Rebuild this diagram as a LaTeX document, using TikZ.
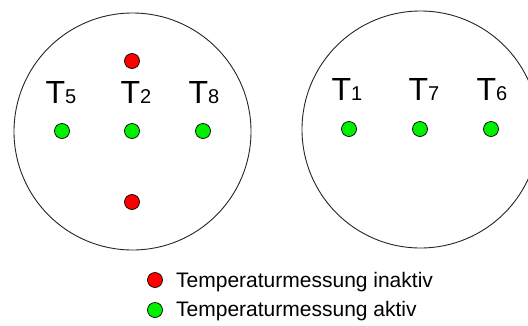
\documentclass[tikz,border=0pt]{standalone}
\usepackage{fontspec}
\setmainfont{Liberation Sans}
\usepackage{tikz}
\usetikzlibrary{positioning}
\definecolor{messrot}{HTML}{FF0000}
\definecolor{messgruen}{HTML}{00F000}
\newcommand{\templabel}[1]{{\fontsize{32}{32}\selectfont T}{\fontsize{20}{20}\selectfont #1}}

\begin{document}
\begin{tikzpicture}[x=1pt,y=-1pt,
  messpunkt/.style={circle, draw=black, line width=0.7pt, minimum size=15pt, inner sep=0pt},
  inaktiv/.style={messpunkt, fill=messrot},
  aktiv/.style={messpunkt, fill=messgruen},
  tlab/.style={anchor=base, inner sep=0pt},
  legtext/.style={anchor=base west, inner sep=0pt, font=\fontsize{21}{21}\selectfont}]
  \useasboundingbox (0,0) rectangle (528,325);
  \fill[white] (0,0) rectangle (528,325);
  % Rohrquerschnitte
  \draw[black!85, line width=0.9pt] (132.5,131.5) circle (118.5);
  \draw[black!85, line width=0.9pt] (420.5,129.5) circle (118.5);
  % linker Querschnitt
  \node[inaktiv] (r2o) at (132,61) {};
  \node[aktiv] (g5) at (62,131) {};
  \node[aktiv] (g2) at (132,131) {};
  \node[aktiv] (g8) at (203,131) {};
  \node[inaktiv] (r2u) at (132,202) {};
  \node[tlab] (t5) at (61,103) {\templabel{5}};
  \node[tlab] (t2) at (136,103) {\templabel{2}};
  \node[tlab] (t8) at (204,103) {\templabel{8}};
  % rechter Querschnitt
  \node[aktiv] (g1) at (349,129) {};
  \node[aktiv] (g7) at (420,129) {};
  \node[aktiv] (g6) at (491,129) {};
  \node[tlab] (t1) at (347,100) {\templabel{1}};
  \node[tlab] (t7) at (424,100) {\templabel{7}};
  \node[tlab] (t6) at (492,100) {\templabel{6}};
  % Legende
  \node[inaktiv] (leginaktiv) at (155,280) {};
  \node[aktiv] (legaktiv) at (155,310) {};
  \node[legtext] (txtinaktiv) at (176,287) {Temperaturmessung inaktiv};
  \node[legtext] (txtaktiv) at (176,316) {Temperaturmessung aktiv};
\end{tikzpicture}
\end{document}
